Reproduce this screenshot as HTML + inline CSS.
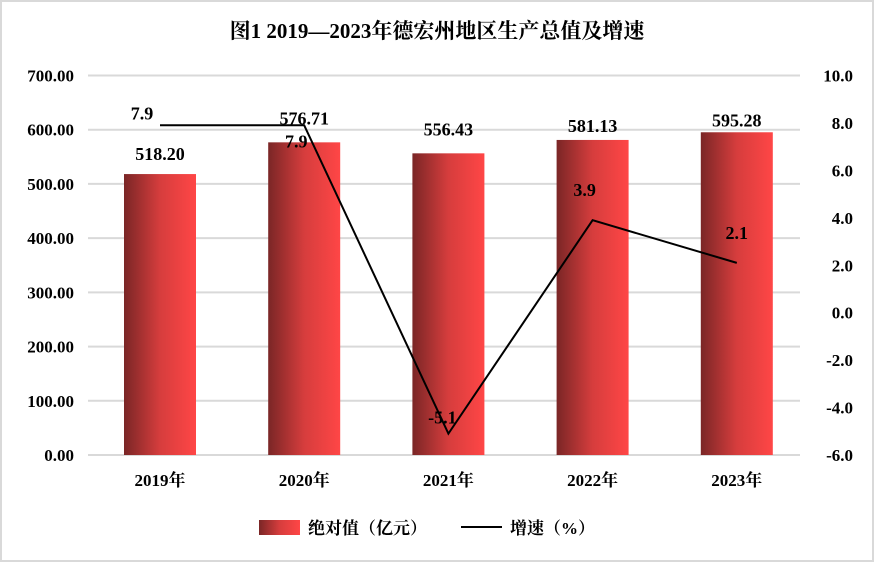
<!DOCTYPE html>
<html><head><meta charset="utf-8"><style>
html,body{margin:0;padding:0;background:#fff}
svg{display:block;font-family:"Liberation Serif","Noto Serif CJK SC",serif;font-weight:bold}
</style></head><body>
<svg id="c" width="874" height="562" viewBox="0 0 874 562">
<defs><linearGradient id="g" x1="0" x2="1" y1="0" y2="0"><stop offset="0" stop-color="#7a2626"/><stop offset="0.5" stop-color="#d63d3d"/><stop offset="1" stop-color="#ff4646"/></linearGradient></defs>
<rect x="1" y="1" width="872" height="560" fill="#fff" stroke="#d9d9d9" stroke-width="2"/>
<text x="437" y="38" text-anchor="middle" font-size="21" fill="#000">图1  2019—2023年德宏州地区生产总值及增速</text>
<g id="grid"></g><g id="bars"></g><g id="line"></g><g id="labels"></g>
<g>
<rect x="259" y="520" width="41" height="15" fill="url(#g)"/>
<text x="308" y="534" font-size="17">绝对值（亿元）</text>
<line x1="461" y1="527" x2="502" y2="527" stroke="#000" stroke-width="2"/>
<text x="510" y="534" font-size="17">增速（%）</text>
</g>
</svg>
<script>
const categories=["2019年","2020年","2021年","2022年","2023年"];
const gdpValues=[518.20,576.71,556.43,581.13,595.28];
const growthValues=[7.9,7.9,-5.1,3.9,2.1];
const leftTicks=[0,100,200,300,400,500,600,700];
const rightTicks=[-6,-4,-2,0,2,4,6,8,10];
const NS="http://www.w3.org/2000/svg";
const yL=v=>455-v*(379.5/700);
const yR=v=>455-(v+6)*(379.5/16);
const xC=i=>160+i*144.2;
function mk(t,a,p,txt){const e=document.createElementNS(NS,t);for(const k in a)e.setAttribute(k,a[k]);if(txt!=null)e.textContent=txt;document.getElementById(p).appendChild(e);return e;}
leftTicks.forEach(v=>{
 const l=mk("line",{x1:88,x2:800,y1:yL(v),y2:yL(v),stroke:"#d9d9d9","stroke-width":2},"grid");
 
 
 const t=mk("text",{x:74,y:yL(v)+6,"text-anchor":"end","font-size":17},"grid",v.toFixed(2));
 
 
});
rightTicks.forEach(v=>{
 const t=mk("text",{x:853,y:yR(v)+6,"text-anchor":"end","font-size":17},"grid",v.toFixed(1));
 
 
});
categories.forEach((c,i)=>{
 const b=mk("rect",{x:xC(i)-36,y:yL(gdpValues[i]),width:72,height:455-yL(gdpValues[i]),fill:"url(#g)"},"bars");
 
 
 const t=mk("text",{x:xC(i),y:486,"text-anchor":"middle","font-size":17},"labels",c);
 
 
 const vOff=[ -32,-36,-36,-26,-24][i];
 const bl=mk("text",{x:xC(i),y:yL(gdpValues[i])+vOff+18,"text-anchor":"middle","font-size":18},"labels",gdpValues[i].toFixed(2));
 
 
});
const pts=growthValues.map((v,i)=>xC(i)+","+yR(v)).join(" ");
const pl=mk("polyline",{points:pts,fill:"none",stroke:"#000","stroke-width":2},"line");


const off=[[-18,-6],[-8,22],[-6,-10],[-8,-24],[0,-24]];
growthValues.forEach((v,i)=>{
 const t=mk("text",{x:xC(i)+off[i][0],y:yR(v)+off[i][1],"text-anchor":"middle","font-size":18},"labels",v.toFixed(1));
 
 
});
</script>
</body></html>
